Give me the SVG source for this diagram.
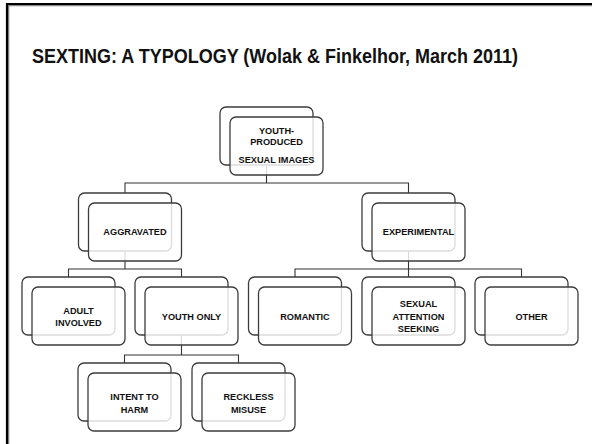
<svg xmlns="http://www.w3.org/2000/svg" width="592" height="444" viewBox="0 0 592 444">
<style>
.bk{fill:#fff;stroke:#3c3c3c;stroke-width:1.3}
.fr{fill:#fff;fill-opacity:0.82;stroke:#3c3c3c;stroke-width:1.3}
.lbl{font-family:"Liberation Sans",Arial,sans-serif;font-weight:bold;font-size:9.2px;fill:#111;text-anchor:middle}
.con{fill:none;stroke:#333;stroke-width:1.1}
</style>
<defs>
<g id="pair">
<rect class="bk" x="0" y="0" width="93" height="58" rx="6"/>
<rect class="fr" x="10" y="10" width="93" height="58" rx="6"/>
</g>
</defs>
<rect width="592" height="444" fill="#fff"/>
<path d="M8.6,444 V5.6 H592" fill="none" stroke="#8a8a8a" stroke-width="1.4"/>
<path d="M7,444 V4 H592" fill="none" stroke="#000" stroke-width="2.2"/>
<text x="32" y="63" font-family="Liberation Sans, Arial, sans-serif" font-weight="bold" font-size="20" fill="#111" textLength="486" lengthAdjust="spacingAndGlyphs">SEXTING: A TYPOLOGY (Wolak &amp; Finkelhor, March 2011)</text>
<g id="connectors">
<path class="con" d="M266.5,165 V183 M125,193 V183 H408.5 V193"/>
<path class="con" d="M125,251 V269 M68.5,277 V269 H181.5 V277"/>
<path class="con" d="M408.5,251 V277 M295,277 V269 H521.5 V277"/>
<path class="con" d="M181.5,335 V355 M124.5,363 V355 H238.5 V363"/>
</g>
<g id="root" transform="translate(220,107)">
<use href="#pair"/>
<text class="lbl" x="56.5" y="27.3">YOUTH-</text>
<text class="lbl" x="56.5" y="38.3">PRODUCED</text>
<text class="lbl" x="56.5" y="56.3">SEXUAL IMAGES</text>
</g>
<g id="aggravated" transform="translate(78.5,193)">
<use href="#pair"/>
<text class="lbl" x="56.5" y="42.3">AGGRAVATED</text>
</g>
<g id="experimental" transform="translate(362,193)">
<use href="#pair"/>
<text class="lbl" x="56.5" y="42.3">EXPERIMENTAL</text>
</g>
<g id="adult-involved" transform="translate(22,277)">
<use href="#pair"/>
<text class="lbl" x="56.5" y="36.5">ADULT</text>
<text class="lbl" x="56.5" y="49.3">INVOLVED</text>
</g>
<g id="youth-only" transform="translate(135,277)">
<use href="#pair"/>
<text class="lbl" x="56.5" y="42.5">YOUTH ONLY</text>
</g>
<g id="romantic" transform="translate(248.5,277)">
<use href="#pair"/>
<text class="lbl" x="56.5" y="42.5">ROMANTIC</text>
</g>
<g id="sexual-attention-seeking" transform="translate(362,277)">
<use href="#pair"/>
<text class="lbl" x="56.5" y="30">SEXUAL</text>
<text class="lbl" x="56.5" y="42.5">ATTENTION</text>
<text class="lbl" x="56.5" y="55">SEEKING</text>
</g>
<g id="other" transform="translate(475,277)">
<use href="#pair"/>
<text class="lbl" x="56.5" y="42.5">OTHER</text>
</g>
<g id="intent-to-harm" transform="translate(78,363)">
<use href="#pair"/>
<text class="lbl" x="56.5" y="37">INTENT TO</text>
<text class="lbl" x="56.5" y="49.7">HARM</text>
</g>
<g id="reckless-misuse" transform="translate(192,363)">
<use href="#pair"/>
<text class="lbl" x="56.5" y="37">RECKLESS</text>
<text class="lbl" x="56.5" y="49.7">MISUSE</text>
</g>
</svg>
